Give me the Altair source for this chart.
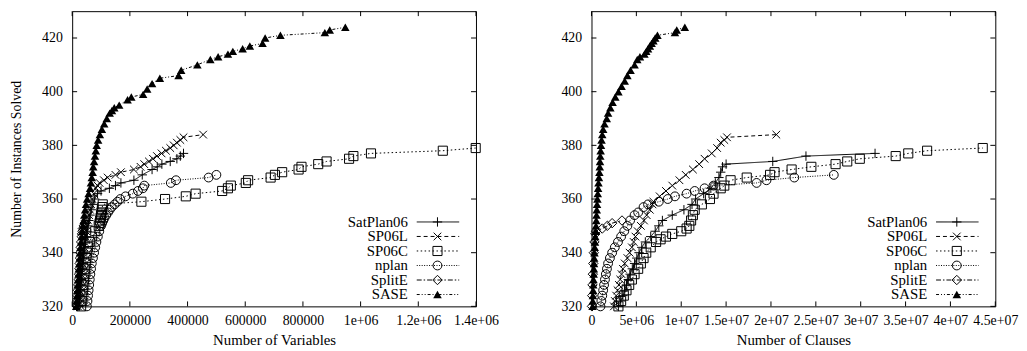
import altair as alt
import pandas as pd

FONT = "Liberation Serif"
W, H = 409, 299

series_names = ["SatPlan06", "SP06L", "SP06C", "nplan", "SplitE", "SASE"]

# ---------------- Left panel: Number of Variables ----------------
satplan_var_y = [320,322,324,326,328,330,332,334,336,338,340,342,344,346,348,350,352,354,356,358,360,362,
                 363,364,365,366,367,369,371,372,373,374,375,376,377]
satplan_var_x = [24000,25500,27000,28500,30000,31500,33000,35000,37000,39000,41000,43500,46000,49000,52000,55000,58000,62000,66000,72000,78000,88000,
                 100000,129000,150000,169000,214000,243000,277000,295000,311000,340000,363000,375000,386000]

sp06l_var_y = [320,322,324,326,328,330,332,334,336,338,340,342,344,346,348,350,352,354,356,358,360,362,364,365,366,
               367,368,369,370,371,372,373,374,375,376,377,378,379,380,381,382,383,384]
sp06l_var_x = [20000,21500,23000,24500,26000,28000,30000,32000,34000,36000,38000,40500,43000,46000,49000,52000,55000,58500,62000,66000,70000,75000,82000,88000,95000,
               110000,123000,150000,169000,214000,237000,250000,266000,280000,294000,310000,325000,340000,352000,363000,375000,386000,454000]

sp06c_var_y = [320,322,324,326,328,330,332,334,336,338,340,342,344,346,348,350,351,352,353,354,355,356,357,358,
               359,360,361,362,363,364,365,366,367,368,369,370,371,372,373,374,375,376,377,378,379]
sp06c_var_x = [31000,33000,35000,37000,39000,41000,43000,45000,47000,49500,52000,55000,61000,68000,80000,92000,95000,97000,98500,100000,101500,103000,104500,106000,
               240000,322000,394000,428000,520000,540000,550000,602000,610000,688000,703000,728000,785000,795000,853000,882000,960000,975000,1036000,1285000,1399000]

nplan_var_y = [320,322,324,326,328,330,332,334,336,338,340,342,344,346,348,350,351,352,353,354,355,356,357,
               358,359,360,361,362,363,364,365,366,367,368,369]
nplan_var_x = [51000,53000,55000,57000,59000,61000,63000,65500,68000,72000,76000,80000,84000,89000,94000,100000,104000,108000,112000,118000,124000,130000,137000,
               147000,157000,167000,185000,210000,228000,245000,250000,342000,360000,473000,500000]

splite_var_y = [320,322,324,326,328,330,332,334,336,338,340,342,344,346,347,348,349,350,351,352]
splite_var_x = [17000,18000,19000,20000,21000,22500,24000,25000,26000,27000,28000,29500,31000,33000,34000,35500,37000,40000,44000,48000]

sase_var_y = [320,322,324,326,328,330,332,334,336,338,340,342,344,346,348,350,352,354,356,358,
              360,362,364,366,368,370,372,374,376,378,380,382,384,386,388,390,392,393,394,395,
              397,398,399,401,403,405,406,408,410,412,413,414,415,416,417,418,420,421,422,423,424]
sase_var_x = [14000,15000,16500,18000,19000,20500,22000,23000,24500,26000,27000,28500,30500,33000,35000,37000,40000,42000,45000,48000,
              52000,57000,62000,65000,68000,71000,73000,76000,79000,82000,85000,90000,96000,103000,111000,120000,130000,138000,146000,163000,
              192000,205000,246000,260000,277000,304000,369000,378000,434000,479000,506000,540000,557000,591000,616000,660000,669000,722000,876000,893000,947000]

# ---------------- Right panel: Number of Clauses ----------------
satplan_cls_y = [320,322,324,326,328,330,332,334,336,338,340,342,344,346,348,350,352,354,356,358,
                 360,362,364,366,368,370,372,373,374,376,377]
satplan_cls_x = [3.0e6,3.25e6,3.5e6,3.7e6,3.9e6,4.1e6,4.3e6,4.55e6,4.8e6,5.05e6,5.3e6,5.6e6,6.0e6,6.6e6,7.1e6,7.5e6,7.9e6,9.0e6,10.3e6,11.2e6,
                 11.6e6,12.5e6,13.3e6,13.8e6,14.2e6,14.4e6,14.6e6,15.0e6,20.2e6,23.9e6,31.6e6]

sp06l_cls_y = [320,322,324,326,328,330,332,334,336,338,340,342,344,346,348,350,352,354,356,358,359,
               361,363,365,367,369,371,373,375,377,379,381,382,383,384]
sp06l_cls_x = [2.5e6,2.6e6,2.75e6,2.9e6,3.05e6,3.2e6,3.35e6,3.5e6,3.7e6,4.0e6,4.25e6,4.5e6,4.7e6,4.9e6,5.15e6,5.5e6,5.85e6,6.15e6,6.5e6,6.8e6,6.9e6,
               7.6e6,8.3e6,9.0e6,9.8e6,10.5e6,11.3e6,12.0e6,12.6e6,13.4e6,14.0e6,14.4e6,14.8e6,15.1e6,20.6e6]

sp06c_cls_y = [320,322,324,326,328,330,332,334,336,338,340,342,344,345,346,347,348,349,350,352,
               354,356,358,360,362,364,365,367,368,369,370,371,372,373,374,375,376,377,378,379]
sp06c_cls_x = [3.0e6,3.3e6,3.6e6,3.9e6,4.2e6,4.5e6,4.8e6,5.2e6,5.5e6,5.8e6,6.1e6,6.6e6,7.2e6,7.7e6,8.3e6,9.0e6,10.0e6,10.6e6,10.9e6,11.1e6,
               11.3e6,11.5e6,12.3e6,13.2e6,13.6e6,14.4e6,14.8e6,15.5e6,17.3e6,19.9e6,20.4e6,22.3e6,24.5e6,27.2e6,28.5e6,29.9e6,33.9e6,35.3e6,37.4e6,43.6e6]

nplan_cls_y = [320,322,324,326,328,330,332,334,336,338,340,342,344,346,348,350,352,354,355,357,
               358,359,360,361,362,363,364,365,366,367,368,369]
nplan_cls_x = [1.0e6,1.1e6,1.2e6,1.3e6,1.4e6,1.5e6,1.6e6,1.72e6,1.85e6,2.05e6,2.3e6,2.6e6,2.95e6,3.3e6,3.65e6,4.0e6,4.3e6,4.8e6,5.2e6,5.8e6,
               6.3e6,7.5e6,8.5e6,9.3e6,10.6e6,11.5e6,12.6e6,13.6e6,18.4e6,19.5e6,22.6e6,27.0e6]

splite_cls_y = [320,324,328,332,336,340,344,347,348,349,350,351,352]
splite_cls_x = [0.05e6,0.08e6,0.11e6,0.15e6,0.2e6,0.26e6,0.33e6,0.42e6,0.5e6,1.2e6,1.76e6,2.3e6,3.4e6]

sase_cls_y = [320,322,324,326,328,330,332,334,336,338,340,342,344,346,348,350,352,354,356,358,
              360,362,364,366,368,370,372,374,376,378,380,382,384,386,388,390,
              392,394,396,398,400,402,404,406,408,410,412,413,414,415,416,417,418,419,420,421,422,423,424]
sase_cls_x = [0.12e6,0.14e6,0.16e6,0.18e6,0.2e6,0.22e6,0.24e6,0.26e6,0.28e6,0.3e6,0.33e6,0.36e6,0.39e6,0.42e6,0.46e6,0.5e6,0.53e6,0.56e6,0.59e6,0.62e6,
              0.66e6,0.7e6,0.74e6,0.78e6,0.83e6,0.88e6,0.92e6,0.95e6,0.98e6,1.02e6,1.06e6,1.12e6,1.2e6,1.3e6,1.45e6,1.7e6,
              1.85e6,2.1e6,2.35e6,2.65e6,3.0e6,3.35e6,3.7e6,4.0e6,4.35e6,4.8e6,5.1e6,5.4e6,5.9e6,6.1e6,6.3e6,6.5e6,6.7e6,6.9e6,7.1e6,7.35e6,9.3e6,9.5e6,10.4e6]

# ---------------- ticks ----------------
y_tick_values = [320, 340, 360, 380, 400, 420]
y_tick_labels = ["320", "340", "360", "380", "400", "420"]
var_tick_values = [0, 200000, 400000, 600000, 800000, 1000000, 1200000, 1400000]
var_tick_labels = ["0", "200000", "400000", "600000", "800000", "1e+06", "1.2e+06", "1.4e+06"]
cls_tick_values = [0, 5000000, 10000000, 15000000, 20000000, 25000000, 30000000, 35000000, 40000000, 45000000]
cls_tick_labels = ["0", "5e+06", "1e+07", "1.5e+07", "2e+07", "2.5e+07", "3e+07", "3.5e+07", "4e+07", "4.5e+07"]

# styles
PLUS = "M-1,0H1M0,-1V1"
CROSS = "M-1,-1L1,1M-1,1L1,-1"
styles = {
    "SatPlan06": dict(shape=PLUS, filled=False, size=90, dash=[1, 0]),
    "SP06L": dict(shape=CROSS, filled=False, size=60, dash=[4, 3]),
    "SP06C": dict(shape="square", filled=False, size=85, dash=[1.5, 2.5]),
    "nplan": dict(shape="circle", filled=False, size=80, dash=[1, 1.5]),
    "SplitE": dict(shape="diamond", filled=False, size=90, dash=[5, 2, 1.5, 2]),
    "SASE": dict(shape="triangle-up", filled=True, size=75, dash=[3, 2, 1, 2, 1, 2]),
}


def label_expr(values, labels):
    parts = [f"datum.value == {v} ? '{l}' : " for v, l in zip(values, labels)]
    return "".join(parts) + "''"


def panel(series, x_title, x_max, x_vals, x_labs, y_title):
    xenc = alt.X("x:Q",
                 scale=alt.Scale(domain=[0, x_max], nice=False, zero=True),
                 axis=alt.Axis(values=x_vals, labelExpr=label_expr(x_vals, x_labs),
                               title=x_title, labelPadding=7, titlePadding=6,
                               titleFontSize=15, labelFontSize=14))
    yenc = alt.Y("y:Q",
                 scale=alt.Scale(domain=[320, 430], nice=False, zero=False),
                 axis=alt.Axis(values=y_tick_values, labelExpr=label_expr(y_tick_values, y_tick_labels),
                               title=y_title, labelPadding=10, titlePadding=18,
                               titleFontSize=14, labelFontSize=14))
    layers = []
    for name in series_names:
        xs, ys = series[name]
        st = styles[name]
        df = pd.DataFrame({"x": xs, "y": ys})
        layers.append(alt.Chart(df).mark_line(color="black", strokeWidth=1, strokeDash=st["dash"])
                      .encode(x=xenc, y=yenc))
        layers.append(alt.Chart(df).mark_point(shape=st["shape"], filled=st["filled"], size=st["size"],
                                               color="black", opacity=1, strokeWidth=1)
                      .encode(x=xenc, y=yenc))
    xt = pd.DataFrame({"x": x_vals})
    yt = pd.DataFrame({"y": y_tick_values})
    layers.append(alt.Chart(xt).mark_rule(color="black", strokeWidth=1)
                  .encode(x=xenc, y=alt.value(0), y2=alt.value(5)))
    layers.append(alt.Chart(xt).mark_rule(color="black", strokeWidth=1)
                  .encode(x=xenc, y=alt.value(H - 5), y2=alt.value(H)))
    layers.append(alt.Chart(yt).mark_rule(color="black", strokeWidth=1)
                  .encode(y=yenc, x=alt.value(0), x2=alt.value(5)))
    layers.append(alt.Chart(yt).mark_rule(color="black", strokeWidth=1)
                  .encode(y=yenc, x=alt.value(W - 5), x2=alt.value(W)))
    data_layer = alt.layer(*layers)

    # legend (gnuplot style: label, then line sample with marker)
    yleg = alt.Y("row:Q", scale=alt.Scale(domain=[0, 5], range=[213.5, 287]), axis=None)
    leg_df = pd.DataFrame({"name": series_names, "row": list(range(len(series_names)))})
    leg_layers = [alt.Chart(leg_df).mark_text(align="right", baseline="middle", font=FONT,
                                              fontSize=15, color="black")
                  .encode(x=alt.value(W - 69), y=yleg, text="name:N")]
    for i, name in enumerate(series_names):
        st = styles[name]
        one = pd.DataFrame({"name": [name], "row": [i]})
        leg_layers.append(alt.Chart(one).mark_rule(color="black", strokeWidth=1, strokeDash=st["dash"])
                          .encode(x=alt.value(W - 60), x2=alt.value(W - 17), y=yleg))
        leg_layers.append(alt.Chart(one).mark_point(shape=st["shape"], filled=st["filled"], size=st["size"],
                                                    color="black", opacity=1, strokeWidth=1)
                          .encode(x=alt.value(W - 39), y=yleg))
    legend_layer = alt.layer(*leg_layers)
    return alt.layer(data_layer, legend_layer).resolve_scale(y="independent").properties(width=W, height=H)


left = panel({
    "SatPlan06": (satplan_var_x, satplan_var_y),
    "SP06L": (sp06l_var_x, sp06l_var_y),
    "SP06C": (sp06c_var_x, sp06c_var_y),
    "nplan": (nplan_var_x, nplan_var_y),
    "SplitE": (splite_var_x, splite_var_y),
    "SASE": (sase_var_x, sase_var_y),
}, "Number of Variables", 1400000, var_tick_values, var_tick_labels, "Number of Instances Solved")

right = panel({
    "SatPlan06": (satplan_cls_x, satplan_cls_y),
    "SP06L": (sp06l_cls_x, sp06l_cls_y),
    "SP06C": (sp06c_cls_x, sp06c_cls_y),
    "nplan": (nplan_cls_x, nplan_cls_y),
    "SplitE": (splite_cls_x, splite_cls_y),
    "SASE": (sase_cls_x, sase_cls_y),
}, "Number of Clauses", 45000000, cls_tick_values, cls_tick_labels, None)

chart = (alt.hconcat(left, right, spacing=61)
         .properties(padding={"left": 1, "top": 0, "right": 0, "bottom": 0}, background="white")
         .configure_view(stroke="black", strokeWidth=1)
         .configure_axis(labelFont=FONT, titleFont=FONT, labelColor="black", titleColor="black",
                         titleFontWeight="normal", grid=False, domain=False, ticks=False,
                         labelFlush=False, labelOverlap=False))

chart.save("out.html", embed_options={"renderer": "svg", "actions": False})
